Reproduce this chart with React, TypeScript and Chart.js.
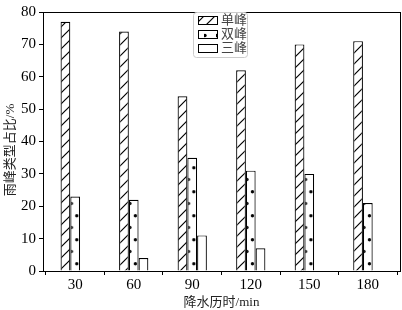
import { useEffect, useRef } from 'react';
import { Chart, registerables } from 'chart.js';

Chart.register(...registerables);

const durations = ['30', '60', '90', '120', '150', '180'];
const singlePeak = [77, 74, 54, 62, 70, 71];
const doublePeak = [23, 22, 35, 31, 30, 21];
const triplePeak = [0, 4, 11, 7, 0, 0];
const seriesNames = ['单峰', '双峰', '三峰'];
const xTitle = '降水历时/min';
const yTitle = '雨峰类型占比/%';
const yMin = 0;
const yMax = 80;
const yStep = 10;

const serif = "'Liberation Serif', 'Noto Sans CJK SC', serif";

function hatchTile(): HTMLCanvasElement {
  const s = 11;
  const c = document.createElement('canvas');
  c.width = s;
  c.height = s;
  const g = c.getContext('2d')!;
  g.fillStyle = '#fff';
  g.fillRect(0, 0, s, s);
  g.strokeStyle = '#000';
  g.lineWidth = 1.2;
  g.beginPath();
  g.moveTo(0, s);
  g.lineTo(s, 0);
  g.moveTo(-2, 2);
  g.lineTo(2, -2);
  g.moveTo(s - 2, s + 2);
  g.lineTo(s + 2, s - 2);
  g.stroke();
  return c;
}

function dotTile(): HTMLCanvasElement {
  const w = 12;
  const h = 24;
  const c = document.createElement('canvas');
  c.width = w;
  c.height = h;
  const g = c.getContext('2d')!;
  g.fillStyle = '#fff';
  g.fillRect(0, 0, w, h);
  g.fillStyle = '#000';
  const dots = [
    [1, 11.5],
    [6.5, -0.3],
    [6.5, 23.7],
  ];
  for (const [x, y] of dots) {
    g.beginPath();
    g.arc(x, y, 1.7, 0, Math.PI * 2);
    g.fill();
  }
  return c;
}

export default function App() {
  const ref = useRef<HTMLCanvasElement | null>(null);

  useEffect(() => {
    document.body.style.margin = '0';
    const canvas = ref.current!;
    const ctx = canvas.getContext('2d')!;
    const hTile = hatchTile();
    const dTile = dotTile();
    const hatch = ctx.createPattern(hTile, 'repeat')!;
    const dots = ctx.createPattern(dTile, 'repeat')!;

    const dotted = (c: any) => {
      const sx = c.chart.scales && c.chart.scales.x;
      if (!sx || c.type !== 'data') return dots;
      const px = sx.getPixelForValue(c.dataIndex);
      const unit = Math.abs(sx.getPixelForValue(1) - sx.getPixelForValue(0));
      const bw = (unit * 0.5) / 3;
      const p = c.chart.ctx.createPattern(dTile, 'repeat');
      p.setTransform(new DOMMatrix([1, 0, 0, 1, px - bw / 2, 0]));
      return p;
    };

    const legendPlugin = {
      id: 'boxLegend',
      afterDraw(chart: any) {
        const g = chart.ctx;
        g.save();
        const x0 = 193.5, y0 = 12.5, w = 54, h = 45;
        g.strokeStyle = '#cccccc';
        g.lineWidth = 1;
        g.fillStyle = 'rgba(255,255,255,0.85)';
        g.beginPath();
        g.roundRect(x0, y0, w, h, 3);
        g.fill();
        g.stroke();
        const fills = [hatch, dots, '#ffffff'];
        const rows = [20.5, 34.5, 48.5];
        g.font = `13px ${serif}`;
        g.textBaseline = 'middle';
        for (let i = 0; i < 3; i++) {
          const y = rows[i];
          g.fillStyle = fills[i];
          g.fillRect(198.5, y - 4, 19, 8);
          g.strokeStyle = '#000';
          g.strokeRect(198.5, y - 4, 19, 8);
          g.fillStyle = '#444';
          g.fillText(seriesNames[i], 221, y + 0.5);
        }
        g.restore();
      },
    };

    const yTitlePlugin = {
      id: 'yTitle',
      afterDraw(chart: any) {
        const g = chart.ctx;
        g.save();
        g.translate(11, 150);
        g.rotate(-Math.PI / 2);
        g.font = `13px ${serif}`;
        g.fillStyle = '#222';
        g.textAlign = 'center';
        g.textBaseline = 'middle';
        g.fillText(yTitle, 0, 0);
        g.restore();
      },
    };

    const framePlugin = {
      id: 'frame',
      afterDatasetsDraw(chart: any) {
        const a = chart.chartArea;
        const g = chart.ctx;
        g.save();
        g.strokeStyle = '#000';
        g.lineWidth = 1;
        g.strokeRect(Math.round(a.left) + 0.5, Math.round(a.top) + 0.5, Math.round(a.right - a.left), Math.round(a.bottom - a.top));
        g.restore();
      },
    };

    const toXY = (arr: number[]) => arr.map((v, i) => ({ x: i, y: v }));

    const chart = new Chart(canvas, {
      type: 'bar',
      data: {
        datasets: [
          { label: seriesNames[0], data: toXY(singlePeak), backgroundColor: hatch, borderColor: '#000', borderWidth: 1.2 },
          { label: seriesNames[1], data: toXY(doublePeak), backgroundColor: dotted as any, borderColor: '#000', borderWidth: 1.2 },
          { label: seriesNames[2], data: toXY(triplePeak), backgroundColor: '#ffffff', borderColor: '#000', borderWidth: 1.2 },
        ],
      },
      options: {
        animation: false,
        responsive: false,
        maintainAspectRatio: false,
        datasets: { bar: { categoryPercentage: 0.5, barPercentage: 1, borderSkipped: 'start' } },
        layout: { padding: { left: 0, right: 2, top: 2, bottom: 0 } },
        plugins: { legend: { display: false }, tooltip: { enabled: false } },
        scales: {
          x: {
            type: 'linear',
            min: -0.55,
            max: 5.55,
            offset: false,
            afterBuildTicks: (s: any) => {
              s.ticks = durations.map((_, i) => ({ value: i }));
            },
            afterFit: (s: any) => {
              s.height = 39;
            },
            ticks: {
              callback: (v: any) => durations[v as number] ?? '',
              color: '#000',
              font: { family: serif, size: 15 },
              padding: 1,
              maxRotation: 0,
              autoSkip: false,
            },
            grid: { display: true, drawOnChartArea: false, drawTicks: true, tickLength: 4, tickColor: '#000', color: '#000' },
            border: { display: true, color: '#000', width: 1 },
            title: { display: true, text: xTitle, color: '#222', font: { family: serif, size: 13 }, padding: { top: 5, bottom: 0 } },
          },
          y: {
            min: yMin,
            max: yMax,
            ticks: { stepSize: yStep, color: '#000', font: { family: serif, size: 15 }, padding: 3 },
            afterFit: (s: any) => {
              s.width = 43;
            },
            grid: { display: true, drawOnChartArea: false, drawTicks: true, tickLength: 4, tickColor: '#000', color: '#000' },
            border: { display: true, color: '#000', width: 1 },
            title: { display: false, text: yTitle },
          },
        },
      },
      plugins: [framePlugin, legendPlugin, yTitlePlugin],
    });

    return () => chart.destroy();
  }, []);

  return (
    <div style={{ position: 'fixed', left: 0, top: 0, width: 402, height: 310, background: '#fff' }}>
      <canvas ref={ref} width={402} height={310} style={{ width: 402, height: 310, display: 'block' }} />
    </div>
  );
}
